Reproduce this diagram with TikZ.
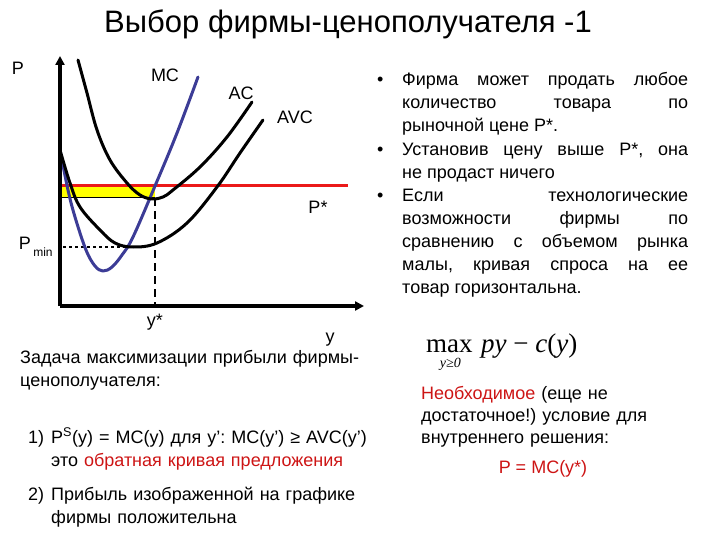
\documentclass[tikz,border=0pt]{standalone}
\usepackage[no-math]{fontspec}
\setmainfont{Liberation Sans}
\newfontfamily\tnr{Liberation Serif}
\usetikzlibrary{arrows.meta}
\definecolor{mcblue}{RGB}{60,60,150}
\definecolor{txtred}{RGB}{205,20,20}
\definecolor{pred}{RGB}{235,25,25}
\definecolor{pyellow}{RGB}{255,255,0}
\hyphenpenalty=10000
\exhyphenpenalty=10000
\frenchspacing
\tikzset{
  axis/.style={line width=3.5pt, -{Triangle[length=9pt,width=9pt]}},
  curve/.style={line width=3pt, line join=round, line cap=round},
  lbl/.style={font=\fontsize{18}{20}\selectfont, inner sep=0},
  body/.style={font=\fontsize{18}{23}\selectfont, inner sep=0, anchor=base west, text width=345pt, align=left},
  btxt/.style={font=\fontsize{18}{23}\selectfont, inner sep=0, anchor=base west, text width=286pt, align=justify},
  bul/.style={font=\fontsize{18}{23}\selectfont, inner sep=0, anchor=base west},
  formula/.style={font=\tnr\fontsize{27}{30}\selectfont, inner sep=0},
}
\begin{document}
\frenchspacing
\begin{tikzpicture}[x=1pt,y=-1pt]
\useasboundingbox (0,0) rectangle (720,540);
% title
\node[font=\fontsize{31}{34}\selectfont, inner sep=0, anchor=base] (title) at (348,33) {Выбор фирмы-ценополучателя -1};
% graph
\coordinate (O) at (60,306);
\coordinate (Ytop) at (60,56);
\coordinate (Xend) at (364,306);
\fill[pyellow] (60,186) rectangle (155,198);
\draw[line width=1pt] (60,198) -- (155,198);
\draw[line width=3pt, pred] (60,186) -- (348,186);
\draw[line width=1.6pt, dash pattern=on 8pt off 5pt] (155,198) -- (155,306);
\draw[line width=2.2pt, dash pattern=on 3pt off 3pt] (63,247) -- (133,247);
\draw[curve, mcblue] plot[smooth, tension=0.6] coordinates {(60,150) (68,190) (75,217) (86,250) (95,266) (103,271) (112,267) (122,255) (133,237) (155,186) (177,133) (198,77)};
\draw[curve] plot[smooth, tension=0.6] coordinates {(78,60) (87,93) (97,130) (110,160) (127,183) (140,195) (152,199) (163,197) (173,190) (200,167) (227,137) (252,102)};
\draw[curve] plot[smooth, tension=0.6] coordinates {(60,150) (70,183) (80,207) (100,230) (115,243) (133,247) (157,243) (187,223) (217,187) (240,153) (263,120)};
\draw[axis] (O) -- (Ytop);
\draw[axis] (O) -- (Xend);
% graph labels
\node[lbl] (lP) at (18,68) {P};
\node[lbl] (lMC) at (165,75) {MC};
\node[lbl] (lAC) at (241,93) {AC};
\node[lbl] (lAVC) at (295,117) {AVC};
\node[lbl] (lPs) at (318,207) {P*};
\node[lbl] (lPmin) at (25,243) {P};
\node[lbl, font=\fontsize{12}{14}\selectfont] (lmin) at (43,252) {min};
\node[lbl] (lys) at (155,322) {y*};
\node[lbl] (ly) at (330,340) {y};
% right bullets
\node[bul] (b1) at (377,86) {•};
\node[btxt] (t1) at (402,86) {Фирма может продать любое\linebreak количество товара по\linebreak рыночной цене P*.};
\node[bul] (b2) at (377,156) {•};
\node[btxt] (t2) at (402,156) {Установив цену выше P*, она\linebreak не продаст ничего};
\node[bul] (b3) at (377,202) {•};
\node[btxt] (t3) at (402,202) {Если технологические\linebreak возможности фирмы по\linebreak сравнению с объемом рынка\linebreak малы, кривая спроса на ее\linebreak товар горизонтальна.};
% bottom left
\node[body] (task) at (20,363) {Задача максимизации прибыли фирмы-\\ценополучателя:};
\node[bul] (n1) at (28,443) {1)};
\node[body] (i1) at (51,443) {P\textsuperscript{S}(y) = MC(y) для y’: MC(y’) ≥ AVC(y’)\\это \textcolor{txtred}{обратная кривая предложения}};
\node[bul] (n2) at (28,500) {2)};
\node[body] (i2) at (51,500) {Прибыль изображенной на графике\\фирмы положительна};
% bottom right formula
\node[formula, anchor=base west] (maxw) at (426,352) {\vtop{\baselineskip=15pt\lineskiplimit=-100pt\lineskip=0pt\halign{\hfil#\hfil\cr max\cr \kern2pt{\itshape\fontsize{14}{14}\selectfont y≥0}\cr}}};
\node[formula, anchor=base west] (rest) at ([xshift=8pt]maxw.base east) {\textit{py} − \textit{c}(\textit{y})};
\node[body, text width=280pt, font=\fontsize{18}{22}\selectfont] (cond) at (421,399) {\textcolor{txtred}{Необходимое} (еще не\\достаточное!) условие для\\внутреннего решения:};
\node[inner sep=0, anchor=base, font=\fontsize{18}{20}\selectfont, text=txtred] (eq) at (543,473) {P = MC(y*)};
\end{tikzpicture}
\end{document}
